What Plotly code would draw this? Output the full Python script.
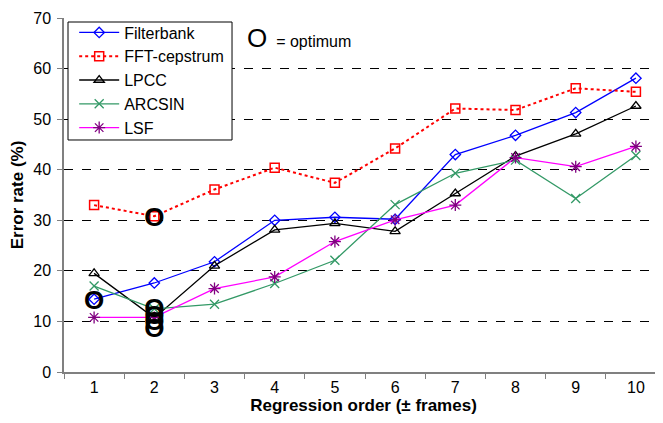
import plotly.graph_objects as go

# ── Data ─────────────────────────────────────────────────────────────────────
orders = ["1", "2", "3", "4", "5", "6", "7", "8", "9", "10"]

filterbank = [14.4, 17.6, 21.8, 30.0, 30.6, 30.2, 43.0, 46.8, 51.3, 58.1]
fft_cepstrum = [33.0, 30.8, 36.1, 40.4, 37.4, 44.2, 52.1, 51.8, 56.1, 55.4]
lpcc = [19.5, 10.7, 21.0, 28.1, 29.4, 27.8, 35.3, 42.7, 47.1, 52.6]
arcsin = [17.0, 12.5, 13.4, 17.5, 22.1, 33.1, 39.3, 41.9, 34.3, 42.8]
lsf = [10.8, 10.8, 16.5, 18.8, 25.8, 30.1, 33.0, 42.4, 40.6, 44.6]

# optimum markers ("O")
opt_x = ["1", "2", "2", "2", "2", "2"]
opt_y = [13.7, 30.2, 12.2, 10.8, 9.6, 8.2]

FONT = "Liberation Sans, Arial"

# ── Figure ───────────────────────────────────────────────────────────────────
series = [
    ("Filterbank", filterbank, dict(color="#0000FF", width=1.3),
     dict(symbol="diamond-open", size=8, color="#0000FF", line=dict(width=1.3))),
    ("FFT-cepstrum", fft_cepstrum, dict(color="#FF0000", width=2, dash="dot"),
     dict(symbol="square-open", size=9, color="#FF0000", line=dict(width=1.5))),
    ("LPCC", lpcc, dict(color="#000000", width=1.3),
     dict(symbol="triangle-up-open", size=9, color="#000000", line=dict(width=1.3))),
    ("ARCSIN", arcsin, dict(color="#339966", width=1.3),
     dict(symbol="x-thin-open", size=9, color="#339966", line=dict(width=1.3, color="#339966"))),
    ("LSF", lsf, dict(color="#FF00FF", width=1.3),
     dict(symbol="asterisk-open", size=10, color="#800080", line=dict(width=1.3, color="#800080"))),
]

fig = go.Figure()
for name, vals, line, marker in series:
    fig.add_trace(go.Scatter(
        x=orders, y=vals, mode="lines+markers", name=name,
        line=line, marker=marker,
    ))

fig.add_trace(go.Scatter(
    x=opt_x, y=opt_y, mode="text", text=["<b>O</b>"] * len(opt_x),
    textposition="middle center", showlegend=False, hoverinfo="skip",
    textfont=dict(family="Liberation Sans Narrow, " + FONT, size=26, color="#000000"),
))

# legend frame (drawn separately so it can hug the entries)
fig.add_shape(
    type="rect", xref="paper", yref="paper",
    x0=0.0067, x1=0.2805, y0=0.6554, y1=0.9887,
    line=dict(color="#000000", width=1), fillcolor="white", layer="above",
)

fig.add_annotation(
    x=0.303, y=0.944, xref="paper", yref="paper", showarrow=False,
    xanchor="left", yanchor="middle",
    text="<span style='font-size:26px'>O</span>  = optimum",
    font=dict(family=FONT, size=16, color="#000000"),
)

# the page body adds an 8px offset, so the figure is 8px smaller on each side
fig.update_layout(
    width=655, height=415,
    margin=dict(l=56, r=0, t=10, b=51),
    plot_bgcolor="white", paper_bgcolor="white",
    font=dict(family=FONT, size=16, color="#000000"),
    showlegend=True,
    legend=dict(
        x=0.017, y=1.007, xanchor="left", yanchor="top",
        bgcolor="rgba(0,0,0,0)", borderwidth=0,
        font=dict(size=16), tracegroupgap=0, itemwidth=40,
    ),
    xaxis=dict(
        type="category", range=[-0.5, 9.45], tickson="boundaries",
        ticks="outside", ticklen=5, tickcolor="#808080", automargin=False,
        showline=True, linecolor="#808080", linewidth=1.5,
        showgrid=False, zeroline=False,
        title=dict(text="<b>Regression order (± frames)</b>", font=dict(size=17), standoff=2),
        tickfont=dict(size=16),
    ),
    yaxis=dict(
        range=[0, 70], dtick=10, automargin=False,
        ticks="outside", ticklen=5, tickcolor="#808080", ticklabelstandoff=3,
        showline=True, linecolor="#808080", linewidth=1.5,
        showgrid=True, gridcolor="#000000", gridwidth=1, griddash="dash",
        zeroline=False,
        title=dict(text="<b>Error rate (%)</b>", font=dict(size=17), standoff=5),
        tickfont=dict(size=16),
    ),
)

fig.write_html("out.html")
